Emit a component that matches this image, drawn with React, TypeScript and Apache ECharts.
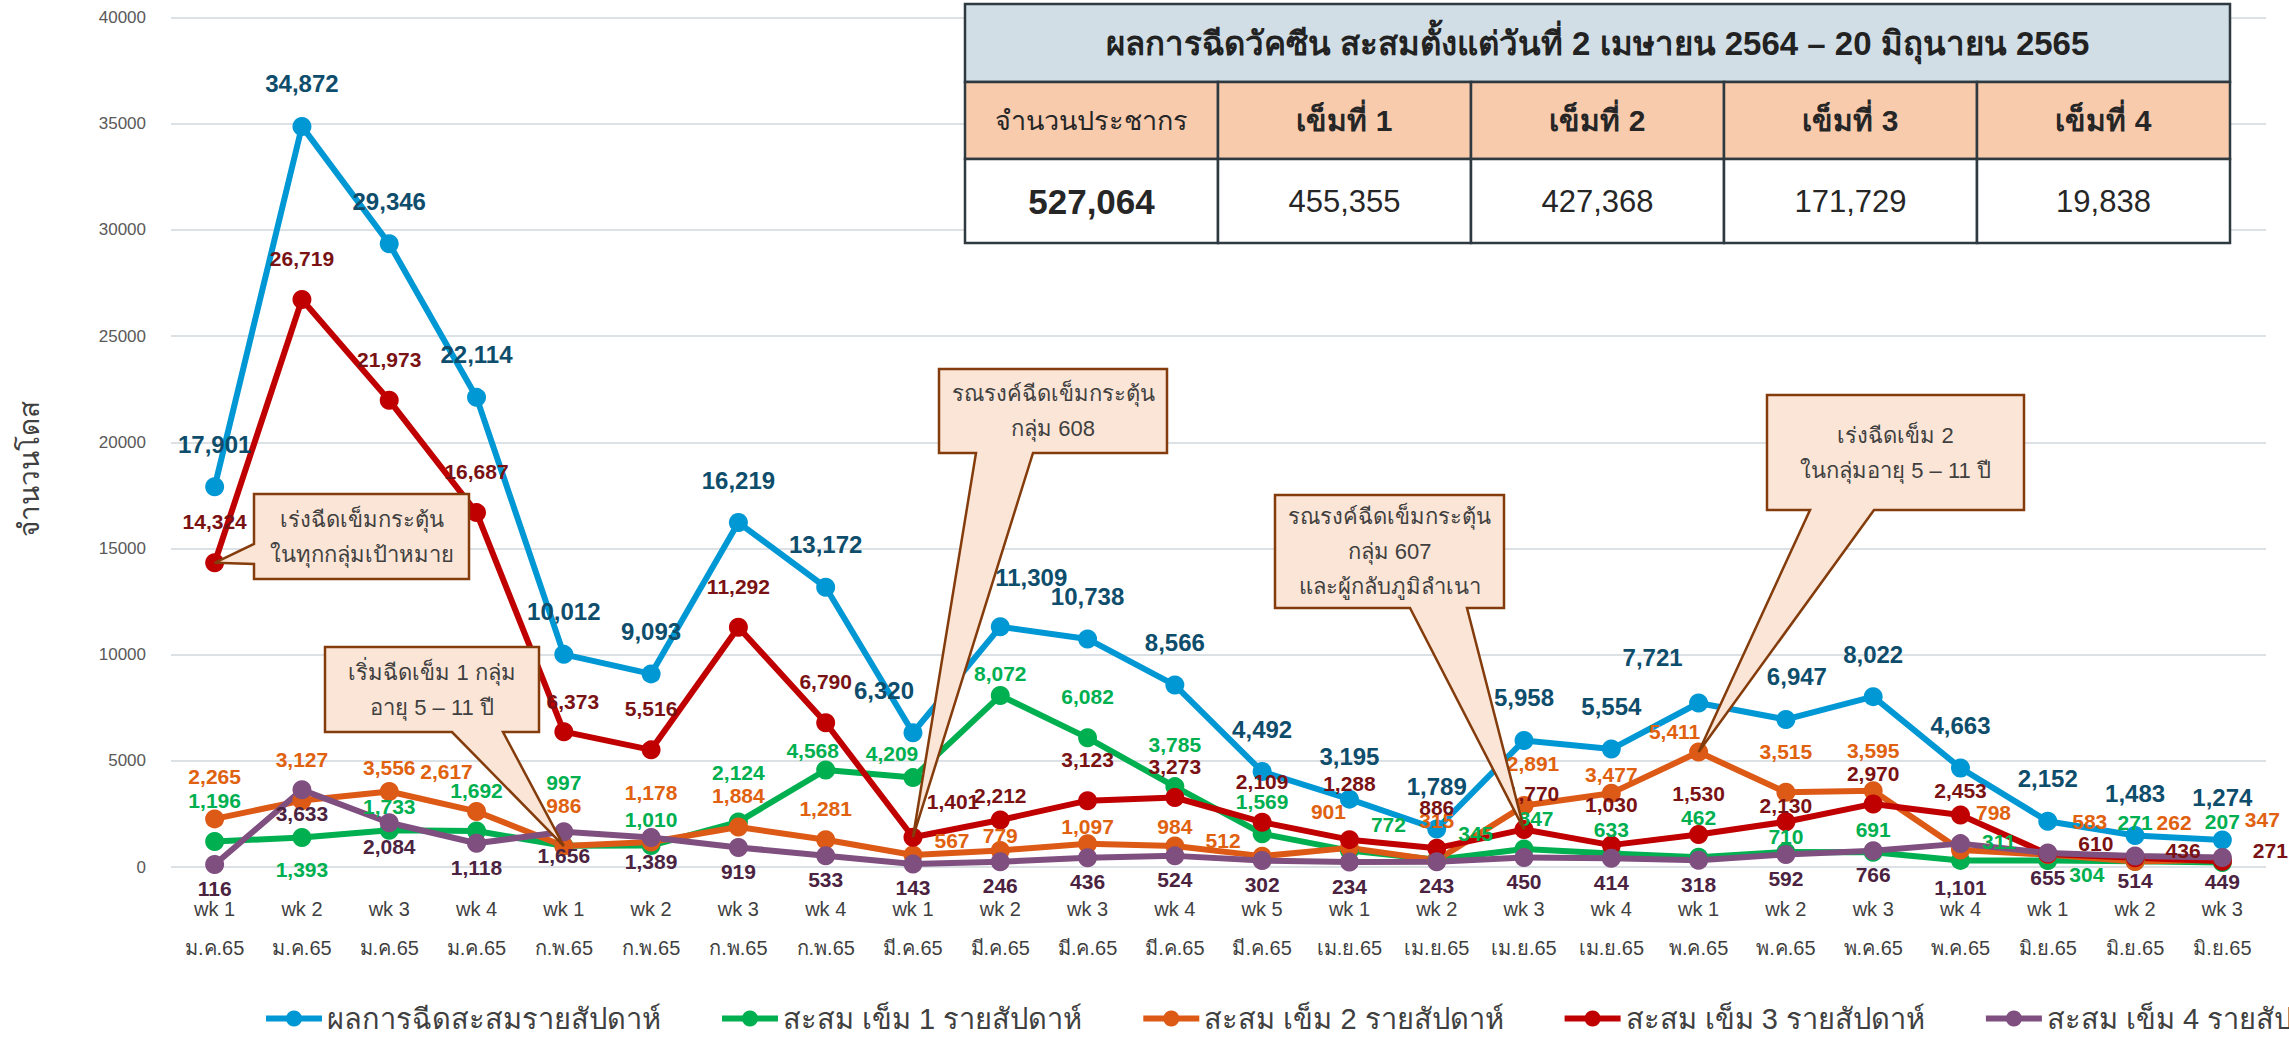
import React, { useEffect, useRef } from 'react';
import * as echarts from 'echarts';

const weekLabels = ['wk 1', 'wk 2', 'wk 3', 'wk 4', 'wk 1', 'wk 2', 'wk 3', 'wk 4', 'wk 1', 'wk 2', 'wk 3', 'wk 4', 'wk 5', 'wk 1', 'wk 2', 'wk 3', 'wk 4', 'wk 1', 'wk 2', 'wk 3', 'wk 4', 'wk 1', 'wk 2', 'wk 3'];
const monthLabels = ['ม.ค.65', 'ม.ค.65', 'ม.ค.65', 'ม.ค.65', 'ก.พ.65', 'ก.พ.65', 'ก.พ.65', 'ก.พ.65', 'มี.ค.65', 'มี.ค.65', 'มี.ค.65', 'มี.ค.65', 'มี.ค.65', 'เม.ย.65', 'เม.ย.65', 'เม.ย.65', 'เม.ย.65', 'พ.ค.65', 'พ.ค.65', 'พ.ค.65', 'พ.ค.65', 'มิ.ย.65', 'มิ.ย.65', 'มิ.ย.65'];

const totalWeekly = [17901, 34872, 29346, 22114, 10012, 9093, 16219, 13172, 6320, 11309, 10738, 8566, 4492, 3195, 1789, 5958, 5554, 7721, 6947, 8022, 4663, 2152, 1483, 1274];
const dose1Weekly = [1196, 1393, 1733, 1692, 997, 1010, 2124, 4568, 4209, 8072, 6082, 3785, 1569, 772, 345, 847, 633, 462, 710, 691, 311, 304, 271, 207];
const dose2Weekly = [2265, 3127, 3556, 2617, 986, 1178, 1884, 1281, 567, 779, 1097, 984, 512, 901, 315, 2891, 3477, 5411, 3515, 3595, 798, 583, 262, 347];
const dose3Weekly = [14324, 26719, 21973, 16687, 6373, 5516, 11292, 6790, 1401, 2212, 3123, 3273, 2109, 1288, 886, 1770, 1030, 1530, 2130, 2970, 2453, 610, 436, 271];
const dose4Weekly = [116, 3633, 2084, 1118, 1656, 1389, 919, 533, 143, 246, 436, 524, 302, 234, 243, 450, 414, 318, 592, 766, 1101, 655, 514, 449];

const seriesNames = ['ผลการฉีดสะสมรายสัปดาห์', 'สะสม เข็ม 1 รายสัปดาห์', 'สะสม เข็ม 2 รายสัปดาห์', 'สะสม เข็ม 3 รายสัปดาห์', 'สะสม เข็ม 4 รายสัปดาห์'];

const tableTitle = 'ผลการฉีดวัคซีน สะสมตั้งแต่วันที่ 2 เมษายน 2564 – 20 มิถุนายน 2565';
const tableHeaders = ['จำนวนประชากร', 'เข็มที่ 1', 'เข็มที่ 2', 'เข็มที่ 3', 'เข็มที่ 4'];
const tableValues = [527064, 455355, 427368, 171729, 19838];

const yMin = 0;
const yMax = 40000;
const yInterval = 5000;

// data-label placement tweaks per series: index -> [position, dx, dy]
const labelTweaks: Record<number, [string, number, number]>[] = [
  { 8: ['top', -29, 0], 9: ['top', 31, -7], 17: ['top', -46, -3], 18: ['top', 11, 0] },
  {
    0: ['top', 0, -9], 1: ['bottom', 0, 0], 2: ['top', 0, 8], 3: ['top', 0, -9], 4: ['top', 0, -31], 5: ['top', 0, 6],
    6: ['top', 0, -17], 7: ['top', -13, 13], 8: ['top', -21, 8], 9: ['top', 0, 10], 10: ['top', 0, -9], 11: ['top', 0, -10],
    13: ['right', 0, -26], 14: ['right', 0, -26], 15: ['top', 12, 1], 16: ['top', 0, 8], 17: ['top', 0, -8], 18: ['top', 0, 17],
    19: ['top', 0, 9], 20: ['right', 0, -19], 21: ['right', 0, 14], 22: ['top', 0, -7], 23: ['top', 0, -9],
  },
  {
    0: ['top', 0, -10], 1: ['top', 0, -9], 2: ['top', 0, 8], 3: ['top', -30, -8], 4: ['top', 0, -9], 5: ['top', 0, -17],
    6: ['top', 0, 1], 7: ['top', 0, 1], 8: ['right', 0, -14], 9: ['top', 0, 17], 10: ['top', 0, 15], 11: ['top', 0, 12],
    12: ['left', 0, -16], 13: ['top', -21, -4], 14: ['top', 0, -8], 15: ['top', 9, -10], 16: ['top', 0, 13], 17: ['top', -24, 11],
    18: ['top', 0, -9], 19: ['top', 0, -8], 20: ['top', 33, -6], 21: ['top', 42, -1], 22: ['top', 39, -7], 23: ['top', 40, -8],
  },
  {
    4: ['top', 9, 11], 8: ['top', 40, 5], 9: ['top', 0, 16], 11: ['top', 0, 10], 13: ['top', 0, -15], 15: ['top', 9, 5],
    18: ['top', 0, 25], 19: ['top', 0, 11], 20: ['top', 0, 17], 21: ['right', 0, -11], 22: ['right', 0, -7], 23: ['right', 0, -11],
  },
  { 20: ['bottom', 0, 20] },
];

const FONT = 'Liberation Sans, Arial, Noto Sans, sans-serif';

export default function App() {
  const ref = useRef<HTMLDivElement>(null);

  useEffect(() => {
    document.body.style.margin = '0';
    const chart = echarts.init(ref.current!, null, { renderer: 'svg' });

    const cats = weekLabels.map((w, i) => `${w}\n${monthLabels[i]}`);
    const fmt = (p: any) => Number(p.value).toLocaleString('en-US');

    const defs = [
      { data: totalWeekly, color: '#0098D4', labelColor: '#0E4D6B', size: 24, pos: 'top', dist: 21 },
      { data: dose1Weekly, color: '#00B050', labelColor: '#00B050', size: 21, pos: 'top', dist: 12 },
      { data: dose2Weekly, color: '#DD5A16', labelColor: '#E0610F', size: 21, pos: 'top', dist: 12 },
      { data: dose3Weekly, color: '#C00000', labelColor: '#7A1214', size: 21, pos: 'top', dist: 21 },
      { data: dose4Weekly, color: '#7F4F80', labelColor: '#4B2341', size: 21, pos: 'bottom', dist: 4 },
    ];

    const series = defs.map((d, si) => ({
      name: seriesNames[si],
      type: 'line',
      symbol: 'circle',
      symbolSize: 19,
      lineStyle: { width: 6, color: d.color },
      itemStyle: { color: d.color },
      label: {
        show: true,
        position: d.pos,
        distance: d.dist,
        color: d.labelColor,
        fontSize: d.size,
        fontWeight: 'bold',
        fontFamily: FONT,
        formatter: fmt,
      },
      data: d.data.map((v, i) => {
        const t = labelTweaks[si][i];
        if (!t) return v;
        return { value: v, label: { position: t[0], offset: [t[1], t[2]] } };
      }),
    }));

    chart.setOption({
      animation: false,
      backgroundColor: '#ffffff',
      textStyle: { fontFamily: FONT },
      grid: { left: 171, right: 23, top: 17.5, bottom: 174, containLabel: false },
      legend: {
        left: 258,
        top: 999,
        width: 2500,
        itemWidth: 56,
        itemHeight: 20,
        itemGap: 58,
        lineStyle: { width: 6 },
        textStyle: { fontSize: 29, color: '#404040', fontFamily: FONT },
        data: seriesNames,
      },
      xAxis: {
        type: 'category',
        data: cats,
        boundaryGap: true,
        axisLine: { show: false },
        axisTick: { show: false },
        axisLabel: { interval: 0, fontSize: 20, lineHeight: 39, color: '#3F3F3F', margin: 22, fontFamily: FONT },
      },
      yAxis: {
        type: 'value',
        min: yMin,
        max: yMax,
        interval: yInterval,
        axisLine: { show: false },
        axisTick: { show: false },
        axisLabel: { fontSize: 17, color: '#595959', margin: 25, fontFamily: FONT, formatter: (v: number) => String(v) },
        splitLine: { lineStyle: { color: '#DCE1E6', width: 2 } },
      },
      series,
    });

    const px = (i: number, v: number) => chart.convertToPixel({ gridIndex: 0 }, [i, v]) as number[];

    const fillC = '#FBE5D6';
    const strokeC = '#843C0C';
    const textC = '#404040';

    type Callout = { box: number[]; side: 'left' | 'bottom'; base: number[]; tip: number[]; lines: string[] };
    const callouts: Callout[] = [
      { box: [254, 494, 469, 579], side: 'left', base: [544, 564], tip: px(0, dose3Weekly[0]), lines: ['เร่งฉีดเข็มกระตุ้น', 'ในทุกกลุ่มเป้าหมาย'] },
      { box: [325, 647, 539, 732], side: 'bottom', base: [452, 503], tip: px(4, dose2Weekly[4]), lines: ['เริ่มฉีดเข็ม 1 กลุ่ม', 'อายุ 5 – 11 ปี'] },
      { box: [939, 369, 1167, 453], side: 'bottom', base: [976, 1033], tip: px(8, dose3Weekly[8]), lines: ['รณรงค์ฉีดเข็มกระตุ้น', 'กลุ่ม 608'] },
      { box: [1275, 495, 1504, 608], side: 'bottom', base: [1410, 1467], tip: px(15, dose3Weekly[15]), lines: ['รณรงค์ฉีดเข็มกระตุ้น', 'กลุ่ม 607', 'และผู้กลับภูมิลำเนา'] },
      { box: [1767, 395, 2024, 510], side: 'bottom', base: [1810, 1874], tip: px(17, dose2Weekly[17]), lines: ['เร่งฉีดเข็ม 2', 'ในกลุ่มอายุ 5 – 11 ปี'] },
    ];

    const graphics: any[] = [];
    callouts.forEach((c) => {
      const [x0, y0, x1, y1] = c.box;
      let pts: number[][];
      if (c.side === 'left') {
        pts = [[x0, y0], [x1, y0], [x1, y1], [x0, y1], [x0, c.base[1]], c.tip, [x0, c.base[0]]];
      } else {
        pts = [[x0, y0], [x1, y0], [x1, y1], [c.base[1], y1], c.tip, [c.base[0], y1], [x0, y1]];
      }
      graphics.push({ type: 'polygon', z: 100, shape: { points: pts }, style: { fill: fillC, stroke: strokeC, lineWidth: 2.5 } });
      graphics.push({
        type: 'text', z: 101,
        x: (x0 + x1) / 2, y: (y0 + y1) / 2,
        style: { text: c.lines.join('\n'), fill: textC, fontSize: 22, lineHeight: 35, fontFamily: FONT, align: 'center', verticalAlign: 'middle' },
      });
    });

    // Summary table
    const colX = [965, 1218, 1471, 1724, 1977, 2230];
    const rowY = [4, 82, 159, 243];
    graphics.push({ type: 'rect', z: 100, shape: { x: colX[0], y: rowY[0], width: colX[5] - colX[0], height: rowY[1] - rowY[0] }, style: { fill: '#D1DEE6', stroke: '#2E3A40', lineWidth: 2.5 } });
    graphics.push({ type: 'text', z: 101, x: (colX[0] + colX[5]) / 2, y: (rowY[0] + rowY[1]) / 2, style: { text: tableTitle, fill: '#222222', fontSize: 33, fontWeight: 'bold', fontFamily: FONT, align: 'center', verticalAlign: 'middle' } });
    for (let c = 0; c < 5; c++) {
      graphics.push({ type: 'rect', z: 100, shape: { x: colX[c], y: rowY[1], width: colX[c + 1] - colX[c], height: rowY[2] - rowY[1] }, style: { fill: '#F8CBAD', stroke: '#2E3A40', lineWidth: 2.5 } });
      graphics.push({ type: 'rect', z: 100, shape: { x: colX[c], y: rowY[2], width: colX[c + 1] - colX[c], height: rowY[3] - rowY[2] }, style: { fill: '#FFFFFF', stroke: '#2E3A40', lineWidth: 2.5 } });
      graphics.push({ type: 'text', z: 101, x: (colX[c] + colX[c + 1]) / 2, y: (rowY[1] + rowY[2]) / 2, style: { text: tableHeaders[c], fill: '#262626', fontSize: c === 0 ? 27 : 30, fontWeight: c === 0 ? 'normal' : 'bold', fontFamily: FONT, align: 'center', verticalAlign: 'middle' } });
      graphics.push({ type: 'text', z: 101, x: (colX[c] + colX[c + 1]) / 2, y: (rowY[2] + rowY[3]) / 2, style: { text: tableValues[c].toLocaleString('en-US'), fill: '#262626', fontSize: c === 0 ? 35 : 31, fontWeight: c === 0 ? 'bold' : 'normal', fontFamily: FONT, align: 'center', verticalAlign: 'middle' } });
    }

    // Y-axis title
    graphics.push({
      type: 'text', z: 50, x: 29, y: 469, rotation: Math.PI / 2,
      style: { text: 'จำนวนโดส', fill: '#404040', fontSize: 28, fontFamily: FONT, align: 'center', verticalAlign: 'middle' },
    });

    chart.setOption({ graphic: graphics });

    return () => chart.dispose();
  }, []);

  return <div ref={ref} style={{ width: 2289, height: 1041 }} />;
}
